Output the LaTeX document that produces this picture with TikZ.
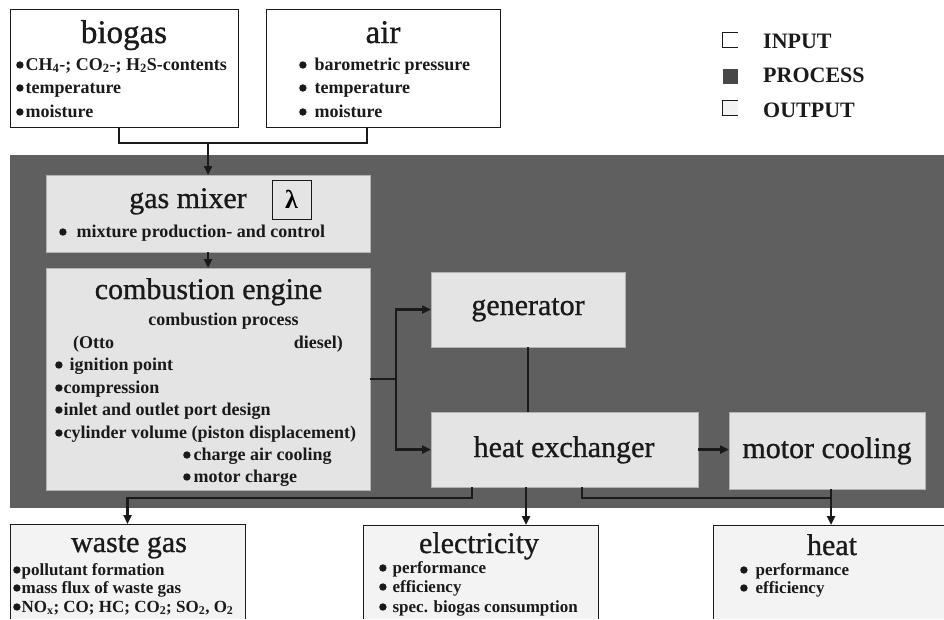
\documentclass[tikz,border=0pt]{standalone}
\usepackage{fontspec}
\setmainfont{Liberation Serif}
\newfontfamily\ttlfont[FakeBold=0.9]{Liberation Serif}
\usetikzlibrary{arrows.meta}
\definecolor{procfill}{HTML}{5F5F5F}
\definecolor{innerfill}{HTML}{E4E4E4}
\definecolor{outfill}{HTML}{F3F3F3}
\definecolor{ink}{HTML}{1A1A1A}
\newcommand\blt{\tikz[baseline=0pt]\fill[ink] (0pt,5pt) circle (3.7pt);}
\begin{document}
\begin{tikzpicture}[x=1pt,y=-1pt,
  box/.style={rectangle, inner sep=0pt, outer sep=0pt},
  inbox/.style={box, draw=ink, line width=0.8pt, fill=white},
  procbox/.style={box, fill=innerfill, draw=gray!60, line width=0.5pt},
  outbox/.style={box, fill=outfill},
  edge3/.style={draw=ink, line width=0.8pt},
  title/.style={inner sep=0pt, anchor=base, font=\ttlfont\fontsize{30}{30}\selectfont, text=ink},
  btitle/.style={title, font=\ttlfont\fontsize{33}{33}\selectfont},
  item/.style={inner sep=0pt, anchor=base west, font=\bfseries\fontsize{18}{18}\selectfont, text=ink},
  sitem/.style={item, font=\bfseries\fontsize{17}{17}\selectfont},
  legtext/.style={inner sep=0pt, anchor=base west, font=\bfseries\fontsize{22}{22}\selectfont, text=ink},
  legsq/.style={box, minimum width=15pt, minimum height=15pt},
  conn/.style={draw=ink, line width=2.6pt},
  arr/.style={-{Triangle[length=9pt,width=8pt]}},
]
\useasboundingbox (0,0) rectangle (944,619);

% ---------- input boxes ----------
\node[inbox, minimum width=228pt, minimum height=118pt] (biogas) at (124,68) {};
\node[inbox, minimum width=234pt, minimum height=118pt] (air) at (383,68) {};

\node[btitle] (tbiogas) at (124,43) {biogas};
\node[item] (b1) at (16,70) {\blt\hspace{2pt}CH\textsubscript{4}-; CO\textsubscript{2}-; H\textsubscript{2}S-contents};
\node[item] (b2) at (16,93) {\blt\hspace{2pt}temperature};
\node[item] (b3) at (16,117) {\blt\hspace{2pt}moisture};

\node[btitle] (tair) at (383,43) {air};
\node[item] (a1) at (299,70) {\blt\hspace{8pt}barometric pressure};
\node[item] (a2) at (299,93) {\blt\hspace{8pt}temperature};
\node[item] (a3) at (299,117) {\blt\hspace{8pt}moisture};

% ---------- legend ----------
\node[legsq, fill=white] (lin) at (730,40) {};
\draw[ink, line width=0.7pt] (lin.north east) -- (lin.north west) -- (lin.south west) -- (lin.south east);
\node[legsq, fill=procfill!75!black] (lpr) at (730,76) {};
\node[legsq, fill=outfill] (lout) at (730,108) {};
\draw[ink, line width=0.7pt] (lout.north east) -- (lout.north west) -- (lout.south west) -- (lout.south east);
\node[legtext] (tin) at (763,48) {INPUT};
\node[legtext] (tpr) at (763,82) {PROCESS};
\node[legtext] (tout) at (763,117) {OUTPUT};

% ---------- process region ----------
\node[box, fill=procfill, minimum width=934pt, minimum height=353pt] (proc) at (477,331.5) {};

\node[procbox, minimum width=324pt, minimum height=77pt] (gasmix) at (208,213.5) {};
\node[box, draw=ink, line width=0.8pt, minimum width=39pt, minimum height=39pt] (lam) at (291.5,199.5) {\bfseries\fontsize{26}{26}\selectfont λ};
\node[title] (tgasmix) at (188,208) {gas mixer};
\node[item] (g1) at (59,237) {\blt\hspace{10pt}mixture production- and control};

\node[procbox, minimum width=324pt, minimum height=222pt] (engine) at (208,379) {};
\node[title] (tengine) at (208.5,299) {combustion engine};
\node[item, anchor=base] (e0) at (223.5,325) {combustion process};
\node[item] (e1) at (73,348) {(Otto};
\node[item, anchor=base east] (e2) at (343,348) {diesel)};
\node[item] (e3) at (55,370) {\blt\hspace{7pt}ignition point};
\node[item] (e4) at (55,393) {\blt\hspace{1pt}compression};
\node[item] (e5) at (55,415) {\blt\hspace{1pt}inlet and outlet port design};
\node[item] (e6) at (55,438) {\blt\hspace{1pt}cylinder volume (piston displacement)};
\node[item] (e7) at (183,460) {\blt\hspace{3pt}charge air cooling};
\node[item] (e8) at (183,482) {\blt\hspace{3pt}motor charge};

\node[procbox, minimum width=194pt, minimum height=75pt] (gen) at (528,309.5) {};
\node[title] (tgen) at (528,315) {generator};

\node[procbox, minimum width=267pt, minimum height=75pt] (hx) at (564.5,449.5) {};
\node[title] (thx) at (564,457) {heat exchanger};

\node[procbox, minimum width=196pt, minimum height=77pt] (cool) at (827,450.5) {};
\node[title] (tcool) at (827,458) {motor cooling};

% ---------- output boxes ----------
\node[outbox, minimum width=235pt, minimum height=95pt] (waste) at (127.5,571.5) {};
\draw[edge3] (waste.south west) -- (waste.north west) -- (waste.north east) -- (waste.south east);
\node[title] (twaste) at (129,552) {waste gas};
\node[sitem] (w1) at (13,575) {\blt\hspace{1pt}pollutant formation};
\node[sitem] (w2) at (13,593) {\blt\hspace{1pt}mass flux of waste gas};
\node[sitem] (w3) at (13,612) {\blt\hspace{1pt}NO\textsubscript{x}; CO; HC; CO\textsubscript{2}; SO\textsubscript{2}, O\textsubscript{2}};

\node[outbox, minimum width=235pt, minimum height=94pt] (elec) at (480.5,572) {};
\draw[edge3] (elec.south west) -- (elec.north west) -- (elec.north east) -- (elec.south east);
\node[title] (telec) at (479,553) {electricity};
\node[sitem] (el1) at (379,573) {\blt\hspace{6pt}performance};
\node[sitem] (el2) at (379,592) {\blt\hspace{6pt}efficiency};
\node[sitem] (el3) at (379,612) {\blt\hspace{6pt}spec. biogas consumption};

\node[outbox, minimum width=231pt, minimum height=94pt] (heat) at (828.5,572) {};
\draw[edge3] (heat.south west) -- (heat.north west) -- (heat.north east);
\node[title] (theat) at (832,555) {heat};
\node[sitem] (h1) at (740,575) {\blt\hspace{8pt}performance};
\node[sitem] (h2) at (740,593) {\blt\hspace{8pt}efficiency};

% ---------- connectors ----------
\coordinate (j1) at (208,143);
\draw[conn] ([xshift=-5pt]biogas.south) |- (j1);
\draw[conn] ([xshift=-16pt]air.south) |- (j1);
\draw[conn, arr] (j1) -- (gasmix.north);
\draw[conn, arr] (gasmix.south) -- (engine.north);

\coordinate (j2) at (396,379);
\draw[conn] (engine.east) -- (j2);
\draw[conn, arr] (j2) |- (gen.west);
\draw[conn, arr] (j2) |- (hx.west);
\draw[conn] (gen.south) -- (gen.south |- hx.north);
\draw[conn, arr] (hx.east) -- (hx.east -| cool.west);

\draw[conn, arr] ([xshift=-92.5pt]hx.south) -- ++(0,11) -| (waste.north);
\draw[conn, arr] ([xshift=-38.5pt]hx.south) -- ([xshift=45.5pt]elec.north);
\coordinate (j4) at (831,498);
\draw[conn] ([xshift=17.5pt]hx.south) |- (j4);
\draw[conn, arr] ([xshift=4pt]cool.south) -- ([xshift=2.5pt]heat.north);
\end{tikzpicture}
\end{document}
